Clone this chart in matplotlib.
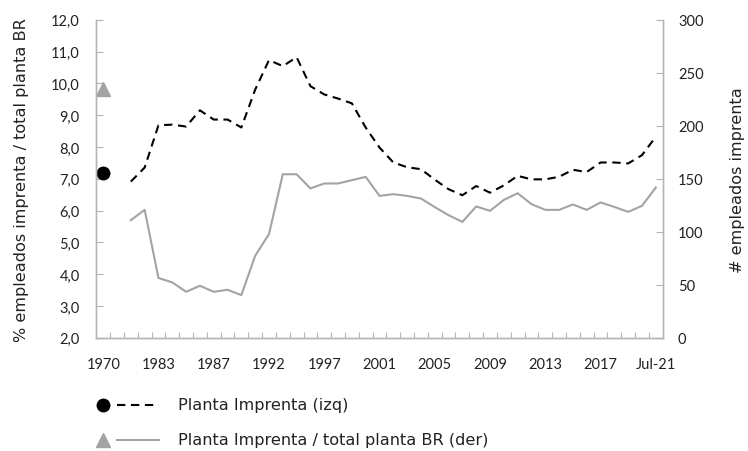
import matplotlib
matplotlib.use("Agg")
import matplotlib.pyplot as plt
import numpy as np
from matplotlib.lines import Line2D

# categories (41 periods, only every 4th labelled)
labels = ["1970", "", "", "", "1983", "", "", "", "1987", "", "", "", "1992", "", "", "",
          "1997", "", "", "", "2001", "", "", "", "2005", "", "", "", "2009", "", "", "",
          "2013", "", "", "", "2017", "", "", "", "Jul-21"]

# Planta Imprenta (izq), from the 3rd period on
planta = [np.nan, np.nan,
          6.91, 7.35, 8.68, 8.70, 8.64, 9.15, 8.86, 8.86, 8.61, 9.80, 10.73, 10.54, 10.82,
          9.91, 9.65, 9.52, 9.37, 8.61, 7.98, 7.51, 7.36, 7.30, 6.97, 6.67, 6.48, 6.77,
          6.56, 6.79, 7.09, 6.98, 6.98, 7.06, 7.28, 7.21, 7.51, 7.51, 7.48, 7.74, 8.32]
# Planta Imprenta / total planta BR (der)
ratio = [np.nan, np.nan,
         110.9, 120.6, 56.3, 52.2, 43.3, 49.0, 43.3, 45.2, 40.2, 77.3, 97.7, 154.2, 154.2,
         140.8, 145.5, 145.5, 148.6, 151.7, 133.8, 135.4, 133.8, 131.3, 123.2, 115.6, 109.3,
         123.8, 119.7, 130.0, 136.3, 126.0, 120.6, 120.6, 125.7, 120.6, 127.6, 123.4, 118.7,
         124.4, 141.7]
# isolated 1970 values
planta_1970 = 7.17
ratio_1970 = 235.0

BLACK = "#000000"
GREY = "#a3a3a3"
AXC = "#b5b5b5"
TXT = "#222222"
DASH = (4.0, 2.7)
W, H = 748, 452

fig = plt.figure(figsize=(W / 100, H / 100), dpi=100)
ax = fig.add_axes([96.3 / W, 1 - 338.7 / H, (662.7 - 96.3) / W, (338.7 - 20.7) / H])
ax2 = ax.twinx()

x = np.arange(len(labels))
ax.plot(x, planta, color=BLACK, lw=1.5, dashes=DASH)
ax.plot([0], [planta_1970], "o", color=BLACK, ms=9)
ax2.plot(x, ratio, color=GREY, lw=1.5)
ax2.plot([0], [ratio_1970], "^", color=GREY, ms=10)

ax.set_xlim(-0.5, len(labels) - 0.5)
ax.set_ylim(2, 12)
ax2.set_ylim(0, 300)

tick_font = dict(family="Lato", size=10.5)
ax.set_xticks([i for i, s in enumerate(labels) if s])
ax.set_xticklabels([s for s in labels if s], **tick_font, color=TXT)
ax.set_xticks(np.arange(0.5, len(labels) - 1, 1.0), minor=True)
ax.tick_params(axis="x", which="major", length=0, pad=14)
ax.tick_params(axis="x", which="minor", direction="in", length=4.5, color=AXC, width=0.8)

lt = np.arange(2, 12.01, 1)
ax.set_yticks(lt)
ax.set_yticklabels([f"{v:.1f}".replace(".", ",") for v in lt], **tick_font, color=TXT)
ax.tick_params(axis="y", direction="in", length=5, color=AXC, width=0.8, pad=12)
rt = np.arange(0, 301, 50)
ax2.set_yticks(rt)
ax2.set_yticklabels([str(v) for v in rt], **tick_font, color=TXT)
ax2.tick_params(axis="y", direction="in", length=5, color=AXC, width=0.8, pad=11)

for a in (ax, ax2):
    a.spines["top"].set_visible(False)
    for s in ("left", "right", "bottom"):
        a.spines[s].set_color(AXC)
        a.spines[s].set_linewidth(1.0)

lab_font = dict(family="DejaVu Sans", size=11.6, color=TXT)
ax.set_ylabel("% empleados imprenta / total planta BR", labelpad=16, **lab_font)
ax2.set_ylabel("# empleados imprenta", labelpad=19, **lab_font)


def fp(px, py):
    return px / W, 1 - py / H


# legend below the axes
rows = [(406, dict(color=BLACK, marker="o", ms=9), dict(color=BLACK, lw=1.5, dashes=DASH),
         "Planta Imprenta (izq)"),
        (441, dict(color=GREY, marker="^", ms=10), dict(color=GREY, lw=1.5),
         "Planta Imprenta / total planta BR (der)")]
for py, mk, ln, text in rows:
    mx, my = fp(103, py)
    fig.add_artist(Line2D([mx], [my], transform=fig.transFigure, ls="none", **mk))
    x0, y0 = fp(117, py)
    x1, _ = fp(159, py)
    fig.add_artist(Line2D([x0, x1], [y0, y0], transform=fig.transFigure, **ln))
    tx, ty = fp(178, py)
    fig.text(tx, ty, text, va="center", ha="left", **lab_font)

fig.savefig("out.png", dpi=100)
